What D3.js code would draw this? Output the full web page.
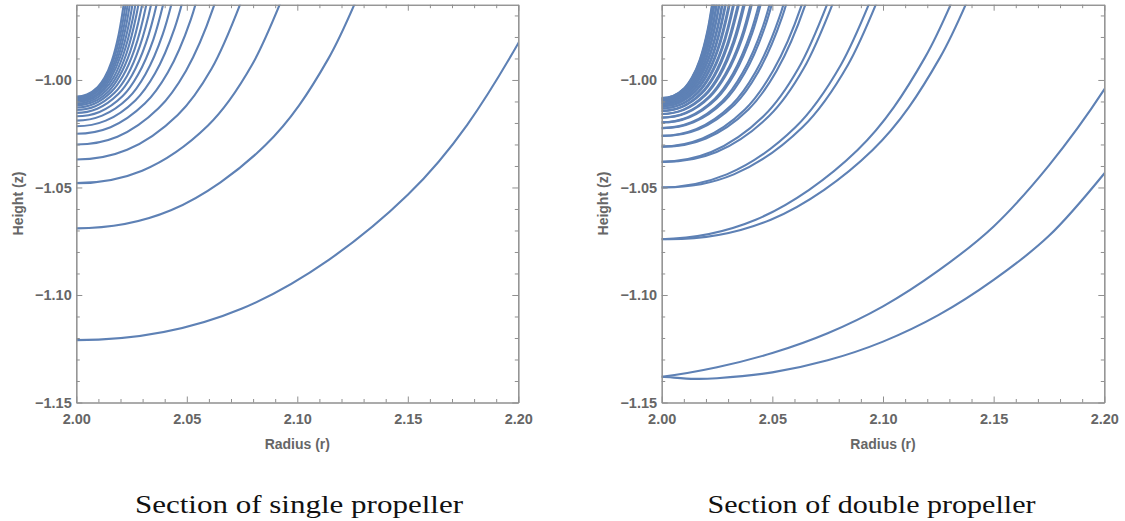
<!DOCTYPE html>
<html><head><meta charset="utf-8">
<script src="https://cdn.jsdelivr.net/npm/d3@7"></script>
<style>body{margin:0;background:#fff}svg{display:block}</style></head>
<body><svg id="c" width="1125" height="521"></svg>
<script>
// ---- axis ticks ----
const rMajor = [2.00, 2.05, 2.10, 2.15, 2.20];
const rMinor = [2.01,2.02,2.03,2.04,2.06,2.07,2.08,2.09,2.11,2.12,2.13,2.14,2.16,2.17,2.18,2.19];
const zMajor = [-1.15, -1.10, -1.05, -1.00];
const zMinor = [-1.14,-1.13,-1.12,-1.11,-1.09,-1.08,-1.07,-1.06,-1.04,-1.03,-1.02,-1.01,-0.99,-0.98,-0.97];
const rDomain = [2.0, 2.2];
const zDomain = [-1.15, -0.965];
const titles = {x: "Radius (r)", y: "Height (z)"};
const captions = ["Section of single propeller", "Section of double propeller"];

// ---- single propeller: contour curves, points [r, z] ----
const singleCurves = [
 [[1.925,-1.1063],[2,-1.121],[2.075,-1.1063],[2.15,-1.0534],[2.2,-0.9829],[2.25,-0.8644]],
 [[1.95725,-1.0606],[2,-1.069],[2.0428,-1.0606],[2.0855,-1.0304],[2.114,-0.9902],[2.1425,-0.9227]],
 [[1.9702,-1.0422],[2,-1.048],[2.0298,-1.0422],[2.0596,-1.0212],[2.0794,-0.9932],[2.0993,-0.9462]],
 [[1.977,-1.0325],[2,-1.037],[2.023,-1.0325],[2.0459,-1.0163],[2.0612,-0.9948],[2.0765,-0.9585]],
 [[1.9814,-1.0264],[2,-1.030],[2.0186,-1.0264],[2.0372,-1.0132],[2.0496,-0.9958],[2.062,-0.9664],[2.0744,-0.9176]],
 [[1.9845,-1.022],[2,-1.025],[2.0155,-1.022],[2.031,-1.011],[2.0414,-0.9965],[2.0518,-0.9719],[2.0621,-0.9312]],
 [[1.98665,-1.0189],[2,-1.0215],[2.01335,-1.0189],[2.0267,-1.0095],[2.0356,-0.997],[2.0445,-0.9759],[2.0534,-0.9408]],
 [[1.9883,-1.0166],[2,-1.0189],[2.0117,-1.0166],[2.0235,-1.0084],[2.0313,-0.9973],[2.0391,-0.9788],[2.047,-0.948]],
 [[1.9895,-1.0149],[2,-1.0169],[2.0105,-1.0149],[2.021,-1.0075],[2.0279,-0.9976],[2.0349,-0.9811],[2.0419,-0.9536]],
 [[1.9905,-1.0134],[2,-1.0153],[2.0095,-1.0134],[2.0189,-1.0067],[2.0252,-0.9978],[2.0315,-0.9829],[2.0378,-0.9581],[2.0441,-0.9171]],
 [[1.9914,-1.0122],[2,-1.0139],[2.0086,-1.0122],[2.0172,-1.0061],[2.023,-0.998],[2.0287,-0.9844],[2.0345,-0.9618],[2.0402,-0.9244]],
 [[1.9921,-1.0112],[2,-1.0128],[2.0079,-1.0112],[2.0158,-1.0056],[2.0211,-0.9982],[2.0264,-0.9857],[2.0317,-0.9649],[2.037,-0.9306]],
 [[1.9927,-1.0104],[2,-1.0118],[2.0073,-1.0104],[2.0147,-1.0052],[2.0195,-0.9983],[2.0244,-0.9868],[2.0293,-0.9675],[2.0342,-0.9358]],
 [[1.9932,-1.0097],[2,-1.011],[2.0068,-1.0097],[2.0136,-1.0049],[2.0182,-0.9985],[2.0227,-0.9877],[2.0272,-0.9698],[2.0318,-0.9403]],
 [[1.9936,-1.009],[2,-1.0103],[2.0064,-1.009],[2.0127,-1.0045],[2.017,-0.9986],[2.0212,-0.9885],[2.0255,-0.9718],[2.0297,-0.9442]],
 [[1.994,-1.0085],[2,-1.0096],[2.006,-1.0085],[2.012,-1.0043],[2.0159,-0.9986],[2.0199,-0.9892],[2.0239,-0.9735],[2.0279,-0.9476]],
 [[1.9944,-1.008],[2,-1.0091],[2.0056,-1.008],[2.0113,-1.004],[2.015,-0.9987],[2.0188,-0.9898],[2.0225,-0.975],[2.0263,-0.9506]],
 [[1.9947,-1.0076],[2,-1.0086],[2.0053,-1.0076],[2.0107,-1.0038],[2.0142,-0.9988],[2.0178,-0.9904],[2.0213,-0.9764],[2.0249,-0.9533]],
 [[1.995,-1.0072],[2,-1.0081],[2.0051,-1.0072],[2.0101,-1.0036],[2.0135,-0.9989],[2.0168,-0.9909],[2.0202,-0.9776],[2.0236,-0.9557]],
 [[1.9952,-1.0068],[2,-1.0077],[2.0048,-1.0068],[2.0096,-1.0034],[2.0128,-0.9989],[2.016,-0.9913],[2.0192,-0.9787],[2.0224,-0.9579]]
];

// ---- double propeller ----
// outermost pair, read separately: points [r, z]
const doubleOuterUpper = [[1.98,-1.1392],[2.0,-1.138],[2.025,-1.1336],[2.05,-1.127],[2.075,-1.1178],[2.1,-1.1053],[2.125,-1.0887],[2.15,-1.0681],[2.175,-1.0397],[2.2,-1.0044],[2.225,-0.9604]];
const doubleOuterLower = [[1.98,-1.1367],[2.0,-1.138],[2.015,-1.139],[2.025,-1.1387],[2.05,-1.136],[2.075,-1.1304],[2.1,-1.1217],[2.125,-1.1094],[2.15,-1.093],[2.175,-1.0725],[2.2,-1.0435],[2.225,-1.0094]];
// inner pairs, rows [r of upper branch, r of lower branch, z]
const doublePairs = [
 [[1.9507,1.9575,-1.065],[1.9966,2.0034,-1.0741],[2.0425,2.0493,-1.065],[2.0884,2.0952,-1.0327],[2.119,2.1258,-0.9895],[2.1496,2.1564,-0.917]],
 [[1.9674,1.9706,-1.0439],[1.9984,2.0016,-1.05],[2.0294,2.0326,-1.0439],[2.0604,2.0636,-1.022],[2.081,2.0842,-0.9929],[2.1017,2.1049,-0.944]],
 [[1.9752,1.9776,-1.0335],[1.9988,2.0012,-1.0381],[2.0224,2.0248,-1.0335],[2.0461,2.0485,-1.0168],[2.0618,2.0642,-0.9946],[2.0776,2.08,-0.9573]],
 [[1.98,1.9816,-1.0272],[1.9992,2.0008,-1.031],[2.0184,2.02,-1.0272],[2.0376,2.0392,-1.0137],[2.0504,2.052,-0.9956],[2.0632,2.0648,-0.9653],[2.076,2.0776,-0.9149]],
 [[1.9833,1.9845,-1.0229],[1.9994,2.0006,-1.026],[2.0155,2.0167,-1.0229],[2.0317,2.0329,-1.0115],[2.0424,2.0436,-0.9963],[2.0532,2.0544,-0.9708],[2.0639,2.0651,-0.9285]],
 [[1.9856,1.9866,-1.0197],[1.9995,2.0005,-1.0224],[2.0134,2.0144,-1.0197],[2.0273,2.0283,-1.0099],[2.0365,2.0375,-0.9968],[2.0458,2.0468,-0.9749],[2.055,2.056,-0.9385]],
 [[1.9874,1.9882,-1.0173],[1.9996,2.0004,-1.0197],[2.0118,2.0126,-1.0173],[2.024,2.0248,-1.0087],[2.0321,2.0329,-0.9972],[2.0402,2.041,-0.978],[2.0484,2.0492,-0.946]],
 [[1.9889,1.9895,-1.0154],[1.9997,2.0003,-1.0175],[2.0106,2.0112,-1.0154],[2.0214,2.022,-1.0077],[2.0286,2.0292,-0.9975],[2.0359,2.0365,-0.9804],[2.0431,2.0437,-0.9519]],
 [[1.9899,1.9905,-1.0139],[1.9997,2.0003,-1.0158],[2.0095,2.0101,-1.0139],[2.0193,2.0199,-1.007],[2.0258,2.0264,-0.9978],[2.0323,2.0329,-0.9823],[2.0388,2.0394,-0.9567]],
 [[1.9909,1.9914,-1.0126],[1.9998,2.0003,-1.0144],[2.0087,2.0092,-1.0126],[2.0176,2.0181,-1.0063],[2.0235,2.024,-0.998],[2.0294,2.0299,-0.9839],[2.0354,2.0359,-0.9606]],
 [[1.9916,1.992,-1.0116],[1.9998,2.0002,-1.0132],[2.008,2.0084,-1.0116],[2.0162,2.0166,-1.0058],[2.0216,2.022,-0.9981],[2.0271,2.0275,-0.9852],[2.0325,2.0329,-0.9638],[2.038,2.0384,-0.9283]],
 [[1.9923,1.9927,-1.0107],[1.9998,2.0002,-1.0122],[2.0074,2.0078,-1.0107],[2.0149,2.0153,-1.0054],[2.0199,2.0203,-0.9983],[2.025,2.0254,-0.9863],[2.03,2.0304,-0.9665],[2.0351,2.0355,-0.9338]],
 [[1.9928,1.9931,-1.01],[1.9999,2.0002,-1.0113],[2.0069,2.0072,-1.01],[2.0139,2.0142,-1.005],[2.0186,2.0189,-0.9984],[2.0233,2.0236,-0.9873],[2.0279,2.0282,-0.9689],[2.0326,2.0329,-0.9385]],
 [[1.9933,1.9936,-1.0093],[1.9999,2.0002,-1.0106],[2.0064,2.0067,-1.0093],[2.013,2.0133,-1.0047],[2.0173,2.0176,-0.9985],[2.0217,2.022,-0.9882],[2.0261,2.0264,-0.971],[2.0304,2.0307,-0.9425]],
 [[1.9938,1.994,-1.0087],[1.9999,2.0001,-1.0099],[2.0061,2.0063,-1.0087],[2.0122,2.0124,-1.0044],[2.0163,2.0165,-0.9986],[2.0204,2.0206,-0.9889],[2.0245,2.0247,-0.9727],[2.0286,2.0288,-0.9461]],
 [[1.9941,1.9943,-1.0082],[1.9999,2.0001,-1.0093],[2.0057,2.0059,-1.0082],[2.0115,2.0117,-1.0041],[2.0153,2.0155,-0.9987],[2.0192,2.0194,-0.9895],[2.0231,2.0233,-0.9743],[2.0269,2.0271,-0.9492]],
 [[1.9944,1.9946,-1.0078],[1.9999,2.0001,-1.0088],[2.0054,2.0056,-1.0078],[2.0109,2.0111,-1.0039],[2.0145,2.0147,-0.9988],[2.0182,2.0184,-0.9901],[2.0218,2.022,-0.9757],[2.0255,2.0257,-0.952]],
 [[1.9947,1.9949,-1.0074],[1.9999,2.0001,-1.0084],[2.0051,2.0053,-1.0074],[2.0103,2.0105,-1.0037],[2.0137,2.0139,-0.9988],[2.0172,2.0174,-0.9906],[2.0207,2.0209,-0.977],[2.0242,2.0244,-0.9545]]
];

const doubleCurves = [doubleOuterUpper, doubleOuterLower];
doublePairs.forEach(p => {
  doubleCurves.push(p.map(d => [d[0], d[2]]));
  doubleCurves.push(p.map(d => [d[1], d[2]]));
});

// ---- drawing ----
const svg = d3.select('#c');
const LINE = '#5e81b5', FRAME = '#8f8f8f', TXT = '#666666';
const FONT = '"Liberation Sans", Arial, sans-serif';
const fmt = d3.format('.2f');
const yTop = 4.7, yBot = 402.5;

const panels = [
  {x0: 76.3, x1: 518.3, curves: singleCurves, caption: captions[0], capX: 299, yTitleX: 22.5},
  {x0: 661.7, x1: 1104.3, curves: doubleCurves, caption: captions[1], capX: 871.5, yTitleX: 608}
];

panels.forEach((p, i) => {
  const x = d3.scaleLinear().domain(rDomain).range([p.x0, p.x1]);
  const y = d3.scaleLinear().domain(zDomain).range([yBot, yTop]);
  const g = svg.append('g');
  const cid = 'clip' + i;
  g.append('clipPath').attr('id', cid).append('rect')
    .attr('x', p.x0).attr('y', yTop).attr('width', p.x1 - p.x0).attr('height', yBot - yTop);

  const line = d3.line().x(d => x(d[0])).y(d => y(d[1])).curve(d3.curveCatmullRom.alpha(0.5));
  g.append('g').attr('clip-path', `url(#${cid})`)
    .selectAll('path').data(p.curves).join('path')
    .attr('d', line).attr('fill', 'none').attr('stroke', LINE)
    .attr('stroke-width', 2.1).attr('stroke-linejoin', 'round');

  function styleAxis(sel) {
    sel.selectAll('.domain').attr('stroke', FRAME).attr('stroke-width', 1.1);
    sel.selectAll('.tick line').attr('stroke', FRAME).attr('stroke-width', 1);
    sel.selectAll('.tick text').attr('fill', TXT).attr('font-family', FONT)
      .attr('font-weight', 'bold').attr('font-size', 14.5);
  }
  // minor ticks
  g.append('g').attr('transform', `translate(0,${yBot})`)
    .call(d3.axisBottom(x).tickValues(rMinor).tickSize(-3.5).tickSizeOuter(0).tickFormat(''))
    .call(styleAxis);
  g.append('g').attr('transform', `translate(0,${yTop})`)
    .call(d3.axisTop(x).tickValues(rMinor).tickSize(-3.5).tickSizeOuter(0).tickFormat(''))
    .call(styleAxis);
  g.append('g').attr('transform', `translate(${p.x0},0)`)
    .call(d3.axisLeft(y).tickValues(zMinor).tickSize(-3.5).tickSizeOuter(0).tickFormat(''))
    .call(styleAxis);
  g.append('g').attr('transform', `translate(${p.x1},0)`)
    .call(d3.axisRight(y).tickValues(zMinor).tickSize(-3.5).tickSizeOuter(0).tickFormat(''))
    .call(styleAxis);
  // major ticks
  g.append('g').attr('transform', `translate(0,${yBot})`)
    .call(d3.axisBottom(x).tickValues(rMajor).tickSize(-6).tickSizeOuter(0).tickPadding(11).tickFormat(fmt))
    .call(styleAxis);
  g.append('g').attr('transform', `translate(0,${yTop})`)
    .call(d3.axisTop(x).tickValues(rMajor).tickSize(-6).tickSizeOuter(0).tickFormat(''))
    .call(styleAxis);
  g.append('g').attr('transform', `translate(${p.x0},0)`)
    .call(d3.axisLeft(y).tickValues(zMajor).tickSize(-6).tickSizeOuter(0).tickPadding(4.6).tickFormat(fmt))
    .call(styleAxis);
  g.append('g').attr('transform', `translate(${p.x1},0)`)
    .call(d3.axisRight(y).tickValues(zMajor).tickSize(-6).tickSizeOuter(0).tickFormat(''))
    .call(styleAxis);

  // axis titles
  g.append('text').attr('x', (p.x0 + p.x1) / 2).attr('y', 449)
    .attr('text-anchor', 'middle').attr('font-family', FONT).attr('font-weight', 'bold')
    .attr('font-size', 14).attr('fill', TXT).text(titles.x);
  g.append('text').attr('transform', `translate(${p.yTitleX},${(yTop + yBot) / 2}) rotate(-90)`)
    .attr('text-anchor', 'middle').attr('font-family', FONT).attr('font-weight', 'bold')
    .attr('font-size', 14).attr('fill', TXT).text(titles.y);

  // caption
  g.append('text').attr('x', p.capX).attr('y', 513).attr('text-anchor', 'middle')
    .attr('font-family', '"Liberation Serif", "Times New Roman", serif').attr('font-size', 26)
    .attr('fill', '#111').attr('textLength', 328).attr('lengthAdjust', 'spacingAndGlyphs')
    .text(p.caption);
});
</script></body></html>
